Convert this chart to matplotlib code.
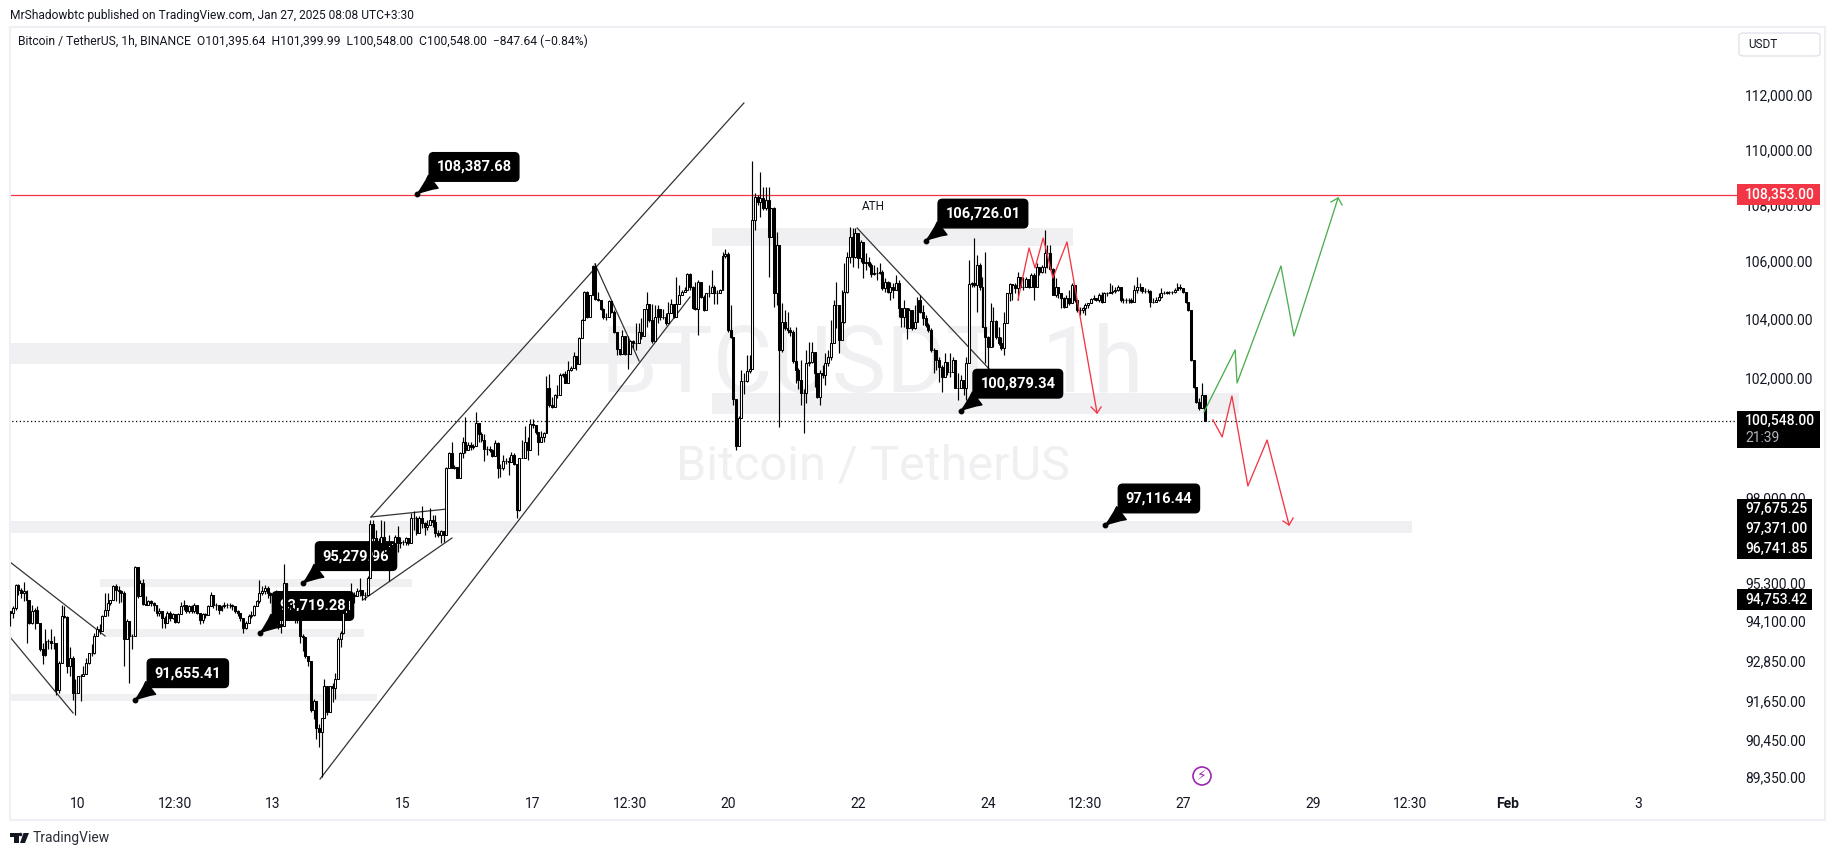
import numpy as np
import matplotlib
matplotlib.use('Agg')
import matplotlib.pyplot as plt
from matplotlib.patches import Rectangle, Circle, Polygon, FancyBboxPatch
from matplotlib.ticker import NullLocator

plt.rcParams['font.family'] = ['Roboto', 'DejaVu Sans']

# hourly bars as (close, high, low), oldest first
bars_jan09 = [(94350,94400,93940),(94505,94555,94195),(95225,95260,94450),(95070,95260,94915),(94970,95120,94810),
(95020,95330,94710),(94760,95070,93420),(94040,94760,93990),(94400,94580,93990),(94430,94500,93835),(94040,94555,94040),
(93215,94040,93160),(93030,93420,92750),(93475,93835,93010),(93475,93525,93215),(93420,93835,93215),(93420,93630,93215),
(91980,93420,91825),(92805,92855,91880),(94250,94600,92805),(94230,94555,94195),(92700,94250,92500),(92960,93270,92395),
(91880,93010,91670),(91880,92290,91210),(92395,92395,91880),(92395,92445,91620),(92445,92700,92395),(92805,92960,92445),
(93115,93115,92755),(93115,93370,93010),(93630,93730,93060),(93835,93940,93630),(93785,94000,93680),(94250,94270,93785),
(94450,94970,94250),(94660,94970,94250),(94760,94760,94600),(95175,95225,94760),(95070,95260,94710),(95020,95175,94660),
(94970,95070,94700),(93525,95020,92700),(94090,94145,93525),(93630,94090,92190),(93630,93680,93215),(95790,95810,93630),
(94865,95720,94810),(95280,95380,94865),(94635,95400,94580),(94600,94865,94580)]
bars_jan11 = [(94710,94760,94580),(94660,94760,94555),(94600,94700,94400),(94350,94600,94250),(94400,94500,94250),
(94200,94400,93885),(94040,94250,93885),(94350,94400,94040),(94200,94400,94090),(94300,94350,94145),(94060,94300,94040),
(94300,94350,94040),(94555,94680,94300),(94580,94760,94450),(94400,94600,94350),(94555,94600,94350),(94400,94600,94350),
(94600,94650,94350),(94350,94600,94300),(94125,94350,93990),(94300,94350,94040),(94270,94350,94200),(94555,94600,94270),
(94915,95000,94555),(94600,94915,94500),(94580,94660,94450),(94450,94600,94300),(94555,94600,94400),(94600,94680,94500),
(94580,94650,94500),(94580,94650,94500),(94555,94620,94450),(94400,94555,94350),(94350,94450,94250),(94195,94350,94090),
(93885,94195,93730),(94020,94090,93840),(94250,94300,94020),(94270,94400,94200),(94555,94600,94250),(94710,94760,94555),
(94970,95380,94650),(95020,95175,94900),(95120,95225,94950),(94970,95175,94810),(94915,95000,94660),(94915,95000,94700),
(94915,95050,94700)]
bars_jan13 = [(93990,94915,93840),(93940,94300,93730),(95280,95900,93940),(94505,95280,94350),(94505,94650,94250),
(94400,94650,94140),(94400,94555,94040),(94195,94400,94040),(93630,94195,93420),(93580,93680,93160),(93010,93580,92960),
(92855,93010,92700),(91360,92855,91300),(91620,91700,91100),(90820,91620,90500),(90700,90950,90250),(91120,91120,89350),
(92085,92300,91120),(91310,92085,91200),(92085,92100,91300),(92030,92190,91600),(92290,92500,91700),(93525,93600,92290),
(93730,93780,93300),(94350,94380,93700),(94450,94500,94300),(94760,94850,94400),(94915,95280,94760),(94860,95000,94650),
(95020,95120,94860),(95070,95450,94860),(94915,95070,94760),(94915,95000,94750),(95450,95500,94915),(97150,97300,95450)]
bars_jan15 = [(96700,97300,96170),(96600,96970,96380),(96540,96700,96400),(96760,97290,96380),(96600,97260,96270),
(96430,96600,96380),(96490,96810,95350),(96540,96600,96160),(96760,96810,96430),(96540,97110,96270),(96600,96760,96380),
(96600,96650,96490),(96700,96760,96490),(96540,96700,96490),(97350,97510,96540),(97350,97570,96970),(96870,97410,96810),
(97350,97410,96870),(97190,97760,97030),(97080,97240,96810),(97140,97300,96970),(97300,97680,97140),(97240,97460,97080),
(96865,97460,96760),(96810,96970,96760),(96940,96970,96540),(96810,96940,96600),(98990,99030,96920),(99460,99510,98990),
(98990,99840,98990),(99030,99080,98950),(98670,99030,98650),(99460,99510,98650),(99840,100000,99320),(99570,100680,99460),
(99730,99840,99570),(99670,99840,99570),(99710,99780,99600),(100480,100830,99710),(100105,100480,99840),(99890,100160,99840),
(99620,100105,99210),(99620,99700,99400),(99570,99700,99500),(99380,99620,99350),(99815,99920,99380),(98970,99840,98670),
(98970,99130,98700),(99210,99400,98920),(99210,99320,99100),(99190,99350,98760),(99400,99510,99190),(99100,99460,99080),
(97620,99100,97370),(99300,99320,97590),(99320,99890,99300),(99840,100380,99300),(99570,100000,99240),(100430,100610,99570),
(100400,100610,100300),(100160,100400,100100),(99840,100160,99400),(100000,100210,99840),(100140,100160,99840),(101640,102040,100140)]
bars_jan18 = [(101060,102120,101010),(101010,101340,100955),(101400,101455,101010),(101400,101745,101300),
(102090,102150,101400),(102120,102150,102000),(101820,102200,101800),(102260,102545,101820),(102320,102400,102200),
(102715,102850,102320),(102435,102715,102260),(103330,103370,102435),(103950,104000,103330),(104920,104945,103950),
(104045,104945,104010),(104810,104810,104045),(105820,105880,104810),(104690,105940,104650),(104635,104920,104600),
(104350,104635,104300),(104045,104385,104000),(104045,104200,103950),(104610,104635,104045),(104240,104610,104200),
(103555,104300,103500),(102960,103555,102770),(102805,102960,102770),(103405,103610,102805),(102805,103405,102770),
(102805,103405,102285),(103220,103280,102805),(103165,103280,103000),(103165,103840,102940),(103555,103840,103165),
(103405,104010,103300),(104320,104350,103405),(104520,104920,103725),(103950,104520,103900),(103220,104500,103165),
(104045,104465,103220),(104350,104465,103840),(104045,104350,103950),(104045,104350,104000),(103860,104180,103800),
(104180,104580,103860),(104500,104690,104180),(104045,104520,104010),(104500,105460,104045),(104810,105160,104500),
(104920,105000,104810),(105000,105100,104920),(105545,105580,105000),(105100,105580,105000),(104385,105125,104350),
(104350,105280,104300),(105280,105330,103440),(104750,105280,104700),(104300,104810,104280),(104890,104890,104300),
(104890,105160,104750),(105100,105700,104890),(104890,105160,104500),(104890,105000,104520),(104980,105040,104920),
(106190,106310,104980),(106250,106430,106130),(103610,106310,103555),(103385,104465,103330),(101285,103385,101060),
(99700,101285,99590),(100650,100700,99700),(101890,102260,100650),(101890,102150,101455),(102200,102770,101850),
(102285,102770,102150)]
bars_jan20 = [(107460,109590,102285),(108290,108410,107100),(108110,108350,108000),(108230,109190,107575),(107875,108650,107800),
(108170,108650,107800),(106865,108650,105455),(107875,107900,106865),(104900,107935,104415),(106575,107040,104470),
(102925,106575,100350),(103900,104530,102870),(103670,104300,103610),(103610,104240,103500),(103550,103700,103400),
(102555,103610,102475),(102250,103725,101800),(101900,102300,101600),(101465,102590,101070),(101465,101600,100130),(102475,102925,101125),
(102530,103210,102400),(102870,103210,102475),(102135,102475,101685),(101350,102135,101300),(102135,102250,101070),
(102080,102420,101965),(102475,102815,101740),(102680,102925,102400),(103155,103955,102590),(104475,104645,103155),
(104475,105280,103670),(103270,104475,102815),(103900,104990,103840),(104930,105925,103840),(106160,106340,104875),
(106865,107220,105925),(106160,107160,105810),(106985,107160,106100),(106100,106750,105750),(106690,106750,105985),
(105950,106515,105400),(105985,106280,105690),(105865,106160,105810),(105550,105925,105455),(105575,105865,105500),
(105600,105810,105340),(105630,105925,105560),(105050,105690,104990),(105280,105400,104930),(104930,105300,104875),
(105110,105280,104645),(104990,105225,104700),(105250,105515,104990),(104360,105340,104070),(104050,104360,103725),
(104360,104645,103725),(103670,104360,103320),(104300,104360,103670),(103670,104300,103600),(103900,104470,103650),
(104645,104760,103900),(104240,104820,104200),(104010,104470,103780),(103780,104130,103700),(103610,103840,103550),
(102925,103670,102870),(102925,103000,102135),(102590,102925,102250),(102360,102700,101850),(102025,102420,101520),
(102530,102815,102135),(102195,102530,102080),(102195,102815,102000),(102590,102700,102195),(101630,102195,101630),
(101630,102135,101240),(101910,102080,101630),(101630,101910,101410),(102475,102700,101240)]
bars_jan23 = [(105200,106040,102475),(105225,105280,105110),(105165,106810,105110),(105865,106220,104240),(105110,105925,105000),
(103725,105455,103700),(103360,106340,102475),(103040,103400,101910),(103930,104530,103040),(103930,104415,103040),
(103380,103955,103300),(103155,103725,103100),(102985,103380,102925),(103840,104240,102760),(104875,104875,103840),
(105200,105225,104620),(105165,105200,104645),(105050,105225,104900),(105455,105630,104645),(105110,105455,105050),
(105110,105455,105000),(105360,105455,105100),(105110,105340,105050),(105515,105575,105110),(105110,105575,104645),
(105810,105925,105110),(105630,105810,105500),(105810,105865,105575),(106280,107100,105600),(106280,106575,105750),
(105715,106575,105690),(104820,105750,104820),(105110,105400,104760),(104875,105110,104700),(104700,104875,104360),
(104415,104760,104360),(104700,104820,104415),(104530,104990,104475),(105165,105250,104530),(104645,105165,104590),
(104300,104645,104240),(104300,104415,104130),(104360,104415,104185),(104470,104530,104130),(104530,104530,104360),
(104670,104700,104530),(104700,104820,104645),(104645,104700,104600),(104820,104875,104590),(104590,104930,104550),
(104875,104930,104590),(104875,104930,104800),(104930,105250,104875),(104970,105165,104850),(104990,105110,104900),
(105110,105165,104950),(104645,105110,104590),(104645,104700,104530),(104640,104700,104560),(104645,104700,104550),(104590,104700,104550),
(104990,105165,104590),(105110,105455,104900)]
bars_jan26 = [(105110,105225,104950),(104970,105100,104900),(104970,105050,104900),(104970,105030,104900),(104590,104990,104415),
(104590,104700,104530),(104645,104760,104590),(104760,104875,104620),(104900,105050,104700),(104900,104960,104850),
(104930,104970,104870),(104930,104970,104870),(104930,104970,104870),(104990,105050,104900),(105110,105225,104990),
(105050,105200,104990),(104930,105050,104900),(104590,104930,104530),(104300,104590,104250),(102590,104300,102550),
(101685,102590,101650),(101180,101685,101125),(100960,101300,100900),(101395,101800,100960),(100548,101399.99,100548)]

price_ticks = [112000,110000,108000,106000,104000,102000,100000,98000,95300,94100,92850,91650,90450,89350]
time_ticks = [0,36,72,120,168,204,240,288,336,372,408,456,492,528,576]
time_labels = ['10','12:30','13','15','17','12:30','20','22','24','12:30','27','29','12:30','Feb','3']

# price zones: low, high, first hour, last hour
zone_low = [102453,106535,100769,96875,95157,93594,91630]
zone_high = [103167,107172,101470,97260,95409,93843,91843]
zone_from = [-26,234,234,-26,8,10,-26]
zone_to = [226,367.4,428.7,492.6,123.3,105.6,110.4]

# black trend lines, each (hour, price, hour, price)
trend_lines = [(-25.1,95948,10,93625),(-25.1,93594,-1.8,91269),(89.4,89294,226,104751),(108.2,97390,245.9,111703),
(108.2,97390,136.3,97647),(105.2,94750,138.1,96714),(190.9,105903,207.2,102554),(287.7,107172,337.5,102182)]

red_up_h = [347.1,351.2,353.4,356.4,360,365.2,376.3]
red_up_p = [104647,106465,105762,106818,105412,106677,100802]
red_head1_h = [374.1,376.3,377.8]
red_head1_p = [101004,100802,101004]
green_h = [415.8,427.3,428,444.2,449,465.3]
green_p = [100836,102930,101810,105832,103406,108244]
green_head_h = [462.7,465.3,466.8]
green_head_p = [108100,108244,107993]
red_dn_h = [419.1,422.5,426.1,432,439.1,447.2]
red_dn_p = [100570,100005,101371,98395,99904,97132]
red_head2_h = [445,447.2,448.7]
red_head2_p = [97260,97132,97357]

# callouts: price, hour, box offset from the dot in pixels
call_price = [108387.68,106726.01,100879.34,97116.44,95279.96,93719.28,91655.41]
call_hour = [125.2,313.1,326,379.2,83.1,67.2,21]
call_dx = [57,57,57,54,53,53,53]
call_dy = [27,27,27,27,27,27,27]

last_price = 100548.00
red_level = 108353.00
stack_tags = ['97,675.25','97,371.00','96,741.85']
stack_price = 97675.25
low_tag = 94753.42

W, H = 1835, 855
INK = '#131722'
RED = '#f23645'
GREEN = '#4caf50'
ZONE = '#f0f0f3'
FRAME = '#eef0f5'

bars = bars_jan09 + bars_jan11 + bars_jan13 + bars_jan15 + bars_jan18 + bars_jan20 + bars_jan23 + bars_jan26
closes = np.array([b[0] for b in bars], float)
highs = np.array([b[1] for b in bars], float)
lows = np.array([b[2] for b in bars], float)
opens = np.r_[94400.0, closes[:-1]]
hours = 416 - (len(bars) - 1) + np.arange(len(bars))


def fx(x):
    return x / W


def fy(y):
    return 1 - y / H


fig = plt.figure(figsize=(W / 100, H / 100), dpi=100)
ax = fig.add_axes([fx(10), fy(820), (1825 - 10) / W, (820 - 27) / H])
ax.set_yscale('log')
ax.set_xlim(-25.1, 645.1)
ax.set_ylim(88090, 114550)

for s in ax.spines.values():
    s.set_color(FRAME)
    s.set_linewidth(1.5)

ax.yaxis.tick_right()
ax.yaxis.set_minor_locator(NullLocator())
ax.set_yticks(price_ticks)
ax.set_yticklabels(['{:,.2f}'.format(p) for p in price_ticks], fontsize=10, color=INK)
ax.tick_params(axis='y', length=0, pad=-57.5)
ax.set_xticks(time_ticks)
ax.set_xticklabels(time_labels, fontsize=10, color=INK)
ax.tick_params(axis='x', length=0, pad=-16.5)
for lab in ax.get_xticklabels():
    if lab.get_text() == 'Feb':
        lab.set_fontweight('bold')

# watermark
ax.text(fx(872), fy(366), 'BTCUSDT, 1h', transform=fig.transFigure, fontsize=66, color='#f0f0f3',
        ha='center', va='center', zorder=0.5)
ax.text(fx(873), fy(466), 'Bitcoin / TetherUS', transform=fig.transFigure, fontsize=35, color='#f0f0f3',
        ha='center', va='center', zorder=0.5)

for lo, hi, a, b in zip(zone_low, zone_high, zone_from, zone_to):
    ax.fill_between([a, b], lo, hi, color=ZONE, lw=0, zorder=1)

ax.hlines(red_level, -26, 612.6, color=RED, lw=0.9, zorder=2)
ax.hlines(last_price, -26, 612.6, color='black', lw=0.9, linestyles=(0, (1, 2)), zorder=2)

for x0, p0, x1, p1 in trend_lines:
    ax.plot([x0, x1], [p0, p1], color='#333333', lw=0.9, zorder=2)

for p, h, dx, dy in zip(call_price, call_hour, call_dx, call_dy):
    ax.plot([h], [p], 'o', ms=3.2, color='black', zorder=2.5)
    ax.annotate('{:,.2f}'.format(p), xy=(h, p), xytext=(dx, dy), textcoords='offset pixels',
                ha='center', va='center', fontsize=10.5, fontweight='bold', color='white', zorder=2.5,
                bbox=dict(boxstyle='round,pad=0.5,rounding_size=0.3', fc='black', ec='black'),
                arrowprops=dict(arrowstyle='wedge,tail_width=1.1,shrink_factor=0.4', fc='black', ec='black',
                                relpos=(0.12, 0.1), shrinkA=0, shrinkB=0))

# candles
up = closes >= opens
ax.vlines(hours, lows, highs, color='black', lw=0.85, zorder=3)
ax.bar(hours[up], (closes - opens)[up], bottom=opens[up], width=0.72, color='white', edgecolor='black', lw=0.75, zorder=3.1)
ax.bar(hours[~up], (opens - closes)[~up], bottom=closes[~up], width=0.72, color='black', edgecolor='black', lw=0.75, zorder=3.1)

for xs, ys, col in [(red_up_h, red_up_p, RED), (red_head1_h, red_head1_p, RED), (green_h, green_p, GREEN),
                    (green_head_h, green_head_p, GREEN), (red_dn_h, red_dn_p, RED), (red_head2_h, red_head2_p, RED)]:
    ax.plot(xs, ys, color=col, lw=0.95, zorder=4)

ax.text(293.6, 107950, 'ATH', fontsize=8.5, color=INK, ha='center', va='center', zorder=4)


def price_y(p):
    return H - ax.transData.transform((0, p))[1]


def tag(text, y, x0=1737, x1=1820, h=21, fc='black', tc='white'):
    fig.add_artist(Rectangle((fx(x0), fy(y + h / 2)), (x1 - x0) / W, h / H, transform=fig.transFigure,
                             fc=fc, ec='none', zorder=5))
    fig.text(fx(1745), fy(y), text, color=tc, fontsize=10, fontweight='medium', ha='left', va='center', zorder=6)


tag('{:,.2f}'.format(red_level), price_y(red_level), fc=RED)

y_last = price_y(last_price)
fig.add_artist(Rectangle((fx(1737), fy(448)), 83 / W, 37 / H, transform=fig.transFigure, fc='black', ec='none', zorder=5))
fig.text(fx(1745), fy(y_last), '{:,.2f}'.format(last_price), color='white', fontsize=10, fontweight='medium', va='center', zorder=6)
fig.text(fx(1745), fy(y_last + 17), '21:39', color='#b2b5be', fontsize=10, va='center', zorder=6)

y_stack = price_y(stack_price)
for i, t in enumerate(stack_tags):
    tag(t, y_stack + 1 + 20 * i, x1=1812, h=20.5)
tag('{:,.2f}'.format(low_tag), price_y(low_tag), x1=1812)

# usdt box, header and branding
fig.add_artist(FancyBboxPatch((fx(1739), fy(56)), 81 / W, 23 / H, transform=fig.transFigure,
                              boxstyle='round,pad=0,rounding_size=0.003', fc='white', ec='#e0e3eb', lw=1, zorder=5))
fig.text(fx(1748), fy(44.5), 'USDT', fontsize=8.5, color=INK, va='center', zorder=6)
fig.text(fx(10), fy(15), 'MrShadowbtc published on TradingView.com, Jan 27, 2025 08:08 UTC+3:30', fontsize=8.65, color=INK, va='center')
fig.text(fx(18), fy(41.5), 'Bitcoin / TetherUS, 1h, BINANCE  O101,395.64  H101,399.99  L100,548.00  C100,548.00  \u2212847.64 (\u22120.84%)',
         fontsize=8.75, color=INK, va='center')
fig.text(fx(33), fy(838), 'TradingView', fontsize=10, color='#2a2e39', va='center')

# lightning badge
badge = Circle((1202, H - 776), 9, transform=None, fc='white', ec='#9c27b0', lw=1.2, zorder=5)
fig.add_artist(badge)
fig.text(fx(1202), fy(776), '\u26a1', fontsize=10, color='#9c27b0', ha='center', va='center', zorder=6,
         family=['DejaVu Sans'])

# tradingview logo
for pts in ([(10, 833), (19, 833), (19, 843), (14, 843), (14, 837), (10, 837)],
            [(23.5, 833), (29, 833), (25, 843), (20, 843)]):
    fig.add_artist(Polygon([(fx(a), fy(b)) for a, b in pts], transform=fig.transFigure, fc=INK, ec='none'))
fig.add_artist(Circle((20.5, H - 834.5), 1.8, transform=None, fc=INK, ec='none'))

fig.savefig('out.png', dpi=100)
